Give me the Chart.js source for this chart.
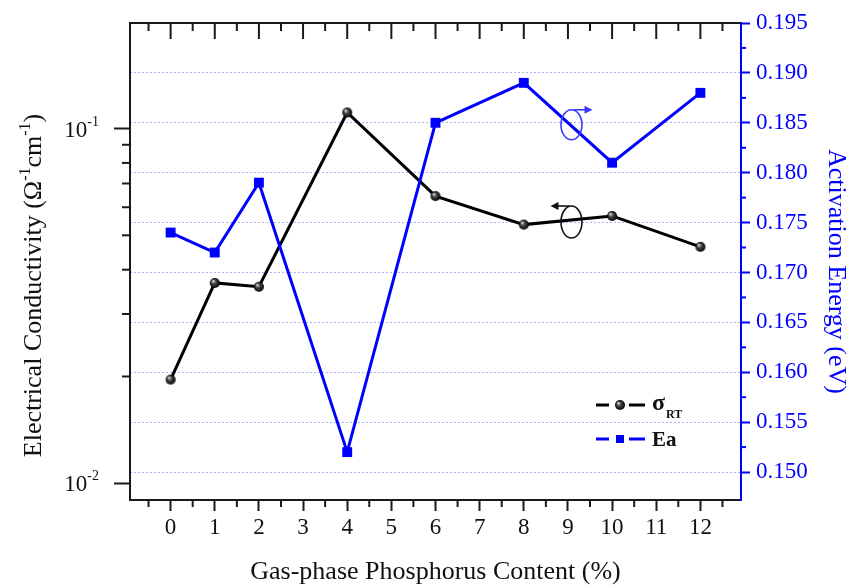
<!DOCTYPE html>
<html>
<head>
<meta charset="utf-8">
<script src="https://cdn.jsdelivr.net/npm/chart.js@4.4.1/dist/chart.umd.min.js"></script>
<style>
  html, body { margin: 0; padding: 0; background: #fff; }
  canvas { display: block; }
</style>
</head>
<body>
<canvas id="chart" width="850" height="588"></canvas>
<script>
// Gas-phase phosphorus content (%)
const phosphorus = [0, 1, 2, 4, 6, 8, 10, 12];
// Room-temperature electrical conductivity (Ω⁻¹cm⁻¹)
const conductivity = [0.0196, 0.0367, 0.0358, 0.111, 0.0645, 0.0536, 0.0567, 0.0464];
// Activation energy (eV)
const activationEnergy = [0.174, 0.172, 0.179, 0.152, 0.185, 0.189, 0.181, 0.188];

// Axis ticks
const xTicks = [0, 1, 2, 3, 4, 5, 6, 7, 8, 9, 10, 11, 12];
const xMinorTicks = [-0.5, 0.5, 1.5, 2.5, 3.5, 4.5, 5.5, 6.5, 7.5, 8.5, 9.5, 10.5, 11.5, 12.5];
const condTicks = [0.01, 0.1];
const condTickBase = '10';
const condTickExponents = ['-2', '-1'];
const condMinorTicks = [0.02, 0.03, 0.04, 0.05, 0.06, 0.07, 0.08, 0.09];
const energyTicks = [0.150, 0.155, 0.160, 0.165, 0.170, 0.175, 0.180, 0.185, 0.190, 0.195];
const energyMinorTicks = [0.1525, 0.1575, 0.1625, 0.1675, 0.1725, 0.1775, 0.1825, 0.1875, 0.1925];

// Direction markers: ellipse + arrow showing which axis each curve uses
const axisHints = [
  { x: 9.08, y: 0.0545, axis: 'yL', color: '#111111', dir: -1, ry: 16 },
  { x: 9.08, y: 0.1848, axis: 'yR', color: '#3a3aff', dir: 1, ry: 15 }
];

const SERIF = '"Liberation Serif", "DejaVu Serif", "Times New Roman", serif';
const AXIS_COLOR = '#1a1a1a';
const BLUE = '#0000ff';

Chart.defaults.font.family = SERIF;
Chart.defaults.color = '#111';

// Shaded round marker for the conductivity series
function sphereMarker(r) {
  const c = document.createElement('canvas');
  const s = Math.ceil(r * 2 + 2);
  c.width = c.height = s;
  const g = c.getContext('2d');
  const m = s / 2;
  const grad = g.createRadialGradient(m - r * 0.35, m - r * 0.4, 0.4, m, m, r);
  grad.addColorStop(0, '#e0e0e0');
  grad.addColorStop(0.35, '#505050');
  grad.addColorStop(1, '#000000');
  g.fillStyle = grad;
  g.beginPath();
  g.arc(m, m, r, 0, Math.PI * 2);
  g.fill();
  return c;
}
const sphere = sphereMarker(5);

function line(ctx, x1, y1, x2, y2) {
  ctx.beginPath();
  ctx.moveTo(x1, y1);
  ctx.lineTo(x2, y2);
  ctx.stroke();
}

// Draws a run of [text, isSuperscript] pieces starting at x on baseline y
function drawRich(ctx, parts, x, y, mainFont, supFont, raise) {
  let px = x;
  parts.forEach(p => {
    ctx.font = p[1] ? supFont : mainFont;
    ctx.fillText(p[0], px, p[1] ? y - raise : y);
    px += ctx.measureText(p[0]).width;
  });
}
function richWidth(ctx, parts, mainFont, supFont) {
  let w = 0;
  parts.forEach(p => { ctx.font = p[1] ? supFont : mainFont; w += ctx.measureText(p[0]).width; });
  return w;
}

// Frame, minor ticks, legend, axis hints, log labels and the side axis titles
const decorations = {
  id: 'decorations',
  afterDraw(chart) {
    const ctx = chart.ctx;
    const { left, right, top, bottom } = chart.chartArea;
    const sx = chart.scales.x, sl = chart.scales.yL, sr = chart.scales.yR;
    ctx.save();
    ctx.lineCap = 'butt';

    // top frame with inward ticks
    ctx.strokeStyle = AXIS_COLOR;
    ctx.lineWidth = 2;
    line(ctx, left - 1, top, right, top);
    xTicks.forEach(v => { const p = sx.getPixelForValue(v); line(ctx, p, top, p, top + 16); });
    xMinorTicks.forEach(v => { const p = sx.getPixelForValue(v); line(ctx, p, top, p, top + 8); });
    // bottom minor ticks
    xMinorTicks.forEach(v => { const p = sx.getPixelForValue(v); line(ctx, p, bottom, p, bottom + 7); });
    // left minor ticks
    condMinorTicks.forEach(v => { const p = sl.getPixelForValue(v); line(ctx, left, p, left - 8, p); });
    // right minor ticks
    ctx.strokeStyle = BLUE;
    energyMinorTicks.forEach(v => { const p = sr.getPixelForValue(v); line(ctx, right, p, right + 5, p); });

    // axis hints
    axisHints.forEach(h => {
      const cx = sx.getPixelForValue(h.x);
      const cy = chart.scales[h.axis].getPixelForValue(h.y);
      ctx.strokeStyle = h.color;
      ctx.fillStyle = h.color;
      ctx.lineWidth = 1.6;
      ctx.beginPath();
      ctx.ellipse(cx, cy, 10.5, h.ry, 0, 0, Math.PI * 2);
      ctx.stroke();
      const ay = cy - h.ry;
      const x0 = cx + h.dir * 2, x1 = cx + h.dir * 21;
      line(ctx, x0, ay, x1 - h.dir * 4, ay);
      ctx.beginPath();
      ctx.moveTo(x1, ay);
      ctx.lineTo(x1 - h.dir * 8, ay - 4);
      ctx.lineTo(x1 - h.dir * 8, ay + 4);
      ctx.closePath();
      ctx.fill();
    });

    // legend
    const ds = chart.data.datasets;
    const lx0 = right - 145, lm = right - 121, lx1 = right - 96, tx = right - 89;
    const rows = [
      { y: bottom - 95, ds: ds.find(d => d.yAxisID === 'yL') },
      { y: bottom - 61, ds: ds.find(d => d.yAxisID === 'yR') }
    ];
    rows.forEach((r, i) => {
      ctx.strokeStyle = r.ds.borderColor;
      ctx.lineWidth = 3;
      line(ctx, lx0, r.y, lm - 11, r.y);
      line(ctx, lm + 9, r.y, lx1, r.y);
      if (i === 0) {
        ctx.drawImage(sphere, lm - sphere.width / 2, r.y - sphere.height / 2);
      } else {
        ctx.fillStyle = r.ds.borderColor;
        ctx.fillRect(lm - 4, r.y - 4, 8, 8);
      }
    });
    ctx.fillStyle = '#111';
    ctx.textBaseline = 'alphabetic';
    ctx.textAlign = 'left';
    ctx.font = 'bold 24px ' + SERIF;
    ctx.fillText('σ', tx, rows[0].y + 5);
    const sw = ctx.measureText('σ').width;
    ctx.font = 'bold 12px ' + SERIF;
    ctx.fillText('RT', tx + sw + 1, rows[0].y + 13);
    ctx.font = 'bold 21px ' + SERIF;
    ctx.fillText('Ea', tx, rows[1].y + 7);

    // log axis labels: 10 with a raised exponent
    const tickFont = '23px ' + SERIF, expFont = '14px ' + SERIF;
    condTicks.forEach((v, i) => {
      const p = sl.getPixelForValue(v);
      const parts = [[condTickBase, 0], [condTickExponents[i], 1]];
      const w = richWidth(ctx, parts, tickFont, expFont);
      drawRich(ctx, parts, left - 31 - w, p + 8, tickFont, expFont, 11);
    });

    // right axis title
    ctx.save();
    ctx.fillStyle = BLUE;
    ctx.font = '26px ' + SERIF;
    ctx.textAlign = 'center';
    ctx.textBaseline = 'middle';
    ctx.translate(836, (top + bottom) / 2 + 10);
    ctx.rotate(Math.PI / 2);
    ctx.fillText('Activation Energy (eV)', 0, 0);
    ctx.restore();

    // left axis title with superscripts
    const parts = [
      ['Electrical Conductivity (Ω', 0],
      ['-1', 1], ['cm', 0], ['-1', 1], [')', 0]
    ];
    const mainFont = '26px ' + SERIF, supFont = '16px ' + SERIF;
    const total = richWidth(ctx, parts, mainFont, supFont);
    ctx.fillStyle = '#111';
    ctx.textAlign = 'left';
    ctx.textBaseline = 'alphabetic';
    ctx.translate(41, (top + bottom) / 2 + 24);
    ctx.rotate(-Math.PI / 2);
    drawRich(ctx, parts, -total / 2, 0, mainFont, supFont, 11);
    ctx.restore();
  }
};

new Chart(document.getElementById('chart'), {
  type: 'line',
  data: {
    datasets: [
      {
        label: 'Ea',
        data: phosphorus.map((p, i) => ({ x: p, y: activationEnergy[i] })),
        yAxisID: 'yR',
        borderColor: BLUE,
        backgroundColor: BLUE,
        borderWidth: 3,
        pointStyle: 'rect',
        pointRadius: 7,
        pointBorderWidth: 0,
        order: 0
      },
      {
        label: 'σRT',
        data: phosphorus.map((p, i) => ({ x: p, y: conductivity[i] })),
        yAxisID: 'yL',
        borderColor: '#000000',
        backgroundColor: '#000000',
        borderWidth: 3,
        pointStyle: sphere,
        pointRadius: 5,
        order: 1
      }
    ]
  },
  options: {
    responsive: false,
    animation: false,
    devicePixelRatio: 1,
    events: [],
    layout: { padding: { top: 23, left: 0, right: 0, bottom: 0 } },
    plugins: { legend: { display: false }, tooltip: { enabled: false } },
    scales: {
      x: {
        type: 'linear',
        position: 'bottom',
        min: -0.92,
        max: 12.92,
        afterBuildTicks: s => { s.ticks = xTicks.map(v => ({ value: v })); },
        afterFit: s => { s.height = 88; },
        grid: { display: true, drawOnChartArea: false, drawTicks: true, tickLength: 11, tickWidth: 2, tickColor: AXIS_COLOR },
        border: { display: true, color: AXIS_COLOR, width: 2 },
        ticks: { font: { size: 23 }, color: '#111', padding: 3, maxRotation: 0, autoSkip: false },
        title: {
          display: true,
          text: 'Gas-phase Phosphorus Content (%)',
          font: { size: 26 },
          color: '#111',
          padding: { top: 0, bottom: 0 }
        }
      },
      yL: {
        type: 'logarithmic',
        position: 'left',
        min: 0.00897,
        max: 0.1984,
        afterBuildTicks: s => { s.ticks = condTicks.map(v => ({ value: v })); },
        afterFit: s => { s.width = 130; },
        grid: { display: true, drawOnChartArea: false, drawTicks: true, tickLength: 16, tickWidth: 2, tickColor: AXIS_COLOR },
        border: { display: true, color: AXIS_COLOR, width: 2 },
        ticks: { display: false }
      },
      yR: {
        type: 'linear',
        position: 'right',
        min: 0.1472,
        max: 0.195,
        afterBuildTicks: s => { s.ticks = energyTicks.map(v => ({ value: v })); },
        afterFit: s => { s.width = 109; },
        grid: {
          display: true,
          drawOnChartArea: true,
          drawTicks: true,
          color: 'rgba(110, 110, 255, 0.55)',
          lineWidth: 1,
          tickLength: 9,
          tickWidth: 2,
          tickColor: BLUE
        },
        border: { display: true, color: BLUE, width: 2, dash: [2, 2] },
        ticks: {
          font: { size: 23 },
          color: BLUE,
          padding: 6,
          autoSkip: false,
          callback: v => v.toFixed(3)
        }
      }
    }
  },
  plugins: [decorations]
});
</script>
</body>
</html>
